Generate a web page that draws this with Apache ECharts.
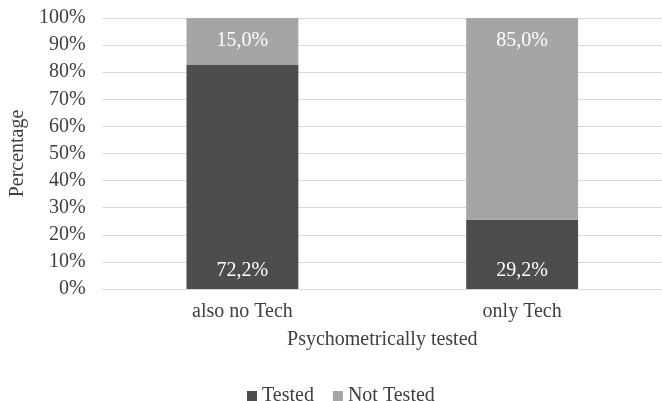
<!DOCTYPE html>
<html><head><meta charset="utf-8">
<script src="https://cdn.jsdelivr.net/npm/echarts@6/dist/echarts.min.js"></script>
<style>html,body{margin:0;padding:0;background:#fff}#c{width:662px;height:401px}</style>
</head><body><div id="c"></div>
<script>
const categories = ['also no Tech', 'only Tech'];
const testedValues = [72.2, 29.2];
const notTestedValues = [15.0, 85.0];
const seriesNames = ['Tested', 'Not Tested'];
const yTicks = [0, 10, 20, 30, 40, 50, 60, 70, 80, 90, 100];

const totals = categories.map((_, i) => testedValues[i] + notTestedValues[i]);
const share = (arr) => arr.map((v, i) => ({ value: v / totals[i] * 100, raw: v }));
const fmt = (p) => p.data.raw.toFixed(1).replace('.', ',') + '%';
const FONT = 'Liberation Serif';
const TXT = '#404040';
const FS = 20;

const chart = echarts.init(document.getElementById('c'), null, { renderer: 'canvas' });
chart.setOption({
  animation: false,
  textStyle: { fontFamily: FONT },
  grid: { left: 97, width: 570, top: 18, bottom: 112 },
  xAxis: {
    type: 'category', data: categories,
    name: 'Psychometrically tested', nameLocation: 'middle', nameGap: 41,
    nameTextStyle: { color: TXT, fontSize: FS, fontFamily: FONT },
    axisLine: { lineStyle: { color: '#d9d9d9', width: 1 } },
    axisTick: { show: false },
    axisLabel: { color: TXT, fontSize: FS, fontFamily: FONT, margin: 13 }
  },
  yAxis: {
    type: 'value', min: yTicks[0], max: yTicks[yTicks.length - 1], interval: 10,
    name: 'Percentage', nameLocation: 'middle', nameGap: 69,
    nameTextStyle: { color: TXT, fontSize: FS, fontFamily: FONT },
    axisLabel: { color: TXT, fontSize: FS, fontFamily: FONT, margin: 17, formatter: '{value}%' },
    splitLine: { lineStyle: { color: '#d9d9d9', width: 1 } },
    axisLine: { show: false }, axisTick: { show: false }
  },
  legend: {
    top: 381, left: 242, itemWidth: 10, itemHeight: 10, itemGap: 19,
    icon: 'rect',
    textStyle: { color: TXT, fontSize: FS, fontFamily: FONT },
    data: seriesNames
  },
  series: [
    {
      name: seriesNames[0], type: 'bar', stack: 's', barWidth: '40%',
      data: share(testedValues),
      itemStyle: { color: '#4d4d4d' },
      label: { show: true, position: 'insideBottom', distance: 8, color: '#fff', fontSize: FS, fontFamily: FONT, formatter: fmt }
    },
    {
      name: seriesNames[1], type: 'bar', stack: 's', barWidth: '40%',
      data: share(notTestedValues),
      itemStyle: { color: '#a5a5a5' },
      label: { show: true, position: 'insideTop', distance: 13, color: '#fff', fontSize: FS, fontFamily: FONT, formatter: fmt }
    }
  ]
});
</script></body></html>
